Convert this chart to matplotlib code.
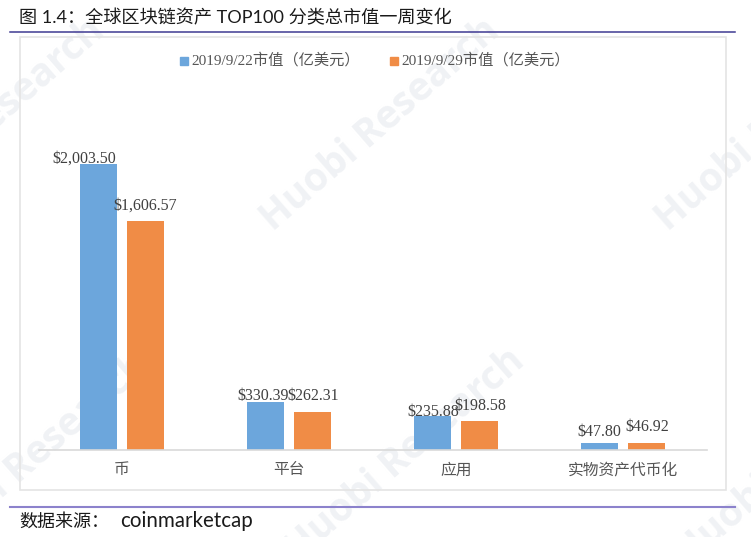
import numpy as np
import matplotlib
matplotlib.use("Agg")
import matplotlib.pyplot as plt
from matplotlib.patches import Rectangle
from matplotlib.lines import Line2D

W, H = 751, 537
categories = ["币", "平台", "应用", "实物资产代币化"]
series_a = [2003.50, 330.39, 235.88, 47.80]
series_b = [1606.57, 262.31, 198.58, 46.92]
label_a = "2019/9/22市值（亿美元）"
label_b = "2019/9/29市值（亿美元）"
title = "图 1.4：全球区块链资产 TOP100 分类总市值一周变化"
source_cn = "数据来源："
source_en = "coinmarketcap"
BLUE, ORANGE = "#6CA6DC", "#F08C46"

CJK = "Noto Sans CJK SC"
SERIF = ["Liberation Serif", CJK]
SANS = ["Lato", CJK]

fig = plt.figure(figsize=(W / 100, H / 100), dpi=100, facecolor="white")

def fx(x): return x / W
def fy(y): return 1 - y / H

# watermarks
for cx, cy in [(-15, 125), (380, 125), (775, 125), (30, 460), (405, 455), (795, 460)]:
    fig.text(fx(cx), fy(cy), "Huobi Research", rotation=41, ha="center", va="center",
             fontsize=28, fontweight="bold", family="Open Sans", color="#F0F2F5", zorder=0)

# frame
fig.add_artist(Rectangle((fx(19.5), fy(490)), fx(706), 453 / H, transform=fig.transFigure,
                         fill=False, edgecolor="#E4E4E4", linewidth=1.2, zorder=1))
# header / footer rules
fig.add_artist(Line2D([fx(10), fx(735)], [fy(31.5)] * 2, color="#3F3A92", lw=1.1))
fig.add_artist(Line2D([fx(10), fx(735)], [fy(506.5)] * 2, color="#8C82CC", lw=1.5))

fig.text(fx(19), fy(18), title, fontsize=13.1, family=SANS, color="#1A1A1A", ha="left", va="center")
fig.text(fx(19), fy(521), source_cn, fontsize=13, family=SANS, color="#1A1A1A", ha="left", va="center")
fig.text(fx(120), fy(521), source_en, fontsize=14.8, family=SANS, color="#1A1A1A", ha="left", va="center")

# axes: x range spans the axis line, y baseline at pixel 449.5
left, right, base, top = 38.5, 706.5, 449.5, 80
ax = fig.add_axes([fx(left), fy(base), (right - left) / W, (base - top) / H], facecolor="none", zorder=2)
x = np.arange(len(categories))
w = 37 / 167
off = 23.5 / 167
ax.bar(x - off, series_a, w, color=BLUE, label=label_a)
ax.bar(x + off, series_b, w, color=ORANGE, label=label_b)
ax.set_xlim(-0.5, len(categories) - 0.5)
ax.set_ylim(0, 2003.5 * (base - top) / 285.5)
ax.set_yticks([])
for s in ["left", "right", "top"]:
    ax.spines[s].set_visible(False)
ax.spines["bottom"].set_color("#D9D9D9")
ax.spines["bottom"].set_linewidth(1.2)
ax.tick_params(axis="x", length=0, pad=8.5)
ax.set_xticks(x, categories, fontsize=11.3, family=CJK, color="#555555")

# label offsets from the bar top-centre, in pixels (label overlaps are as in the reference)
pa = [(-14.5, 5), (-2, 6.4), (0.5, 3.9), (0, 10.7)]
pb = [(0, 14.6), (1, 16), (1, 15), (0.5, 16)]
for i in x:
    ax.annotate(f"${series_a[i]:,.2f}", (i - off, series_a[i]),
                xytext=(pa[i][0] * .72, pa[i][1] * .72), textcoords="offset points",
                ha="center", va="center", fontsize=11.5, family=SERIF, color="#404040")
    ax.annotate(f"${series_b[i]:,.2f}", (i + off, series_b[i]),
                xytext=(pb[i][0] * .72, pb[i][1] * .72), textcoords="offset points",
                ha="center", va="center", fontsize=11.5, family=SERIF, color="#404040")

# legend
for px, col, txt in [(180, BLUE, label_a), (390, ORANGE, label_b)]:
    fig.add_artist(Rectangle((fx(px), fy(65)), 8 / W, 8 / H, transform=fig.transFigure, color=col))
    fig.text(fx(px + 11.5), fy(60.5), txt, fontsize=11, family=SERIF, color="#555555", ha="left", va="center")

fig.savefig("out.png", dpi=100)
